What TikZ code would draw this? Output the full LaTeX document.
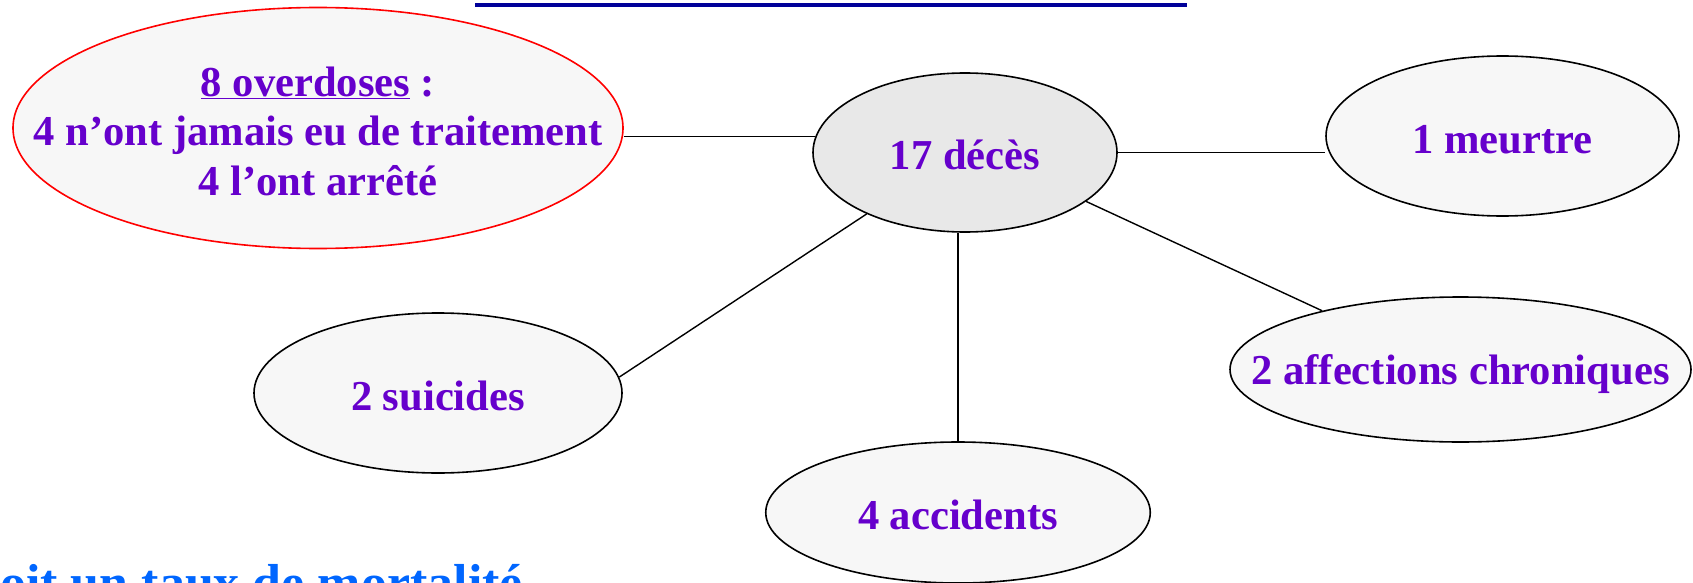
\documentclass[tikz,border=0pt]{standalone}
\usepackage{fontspec}
\setmainfont{Liberation Serif}
\usetikzlibrary{shapes.geometric}
\definecolor{txtpurple}{RGB}{102,0,204}
\definecolor{blobfill}{RGB}{247,247,247}
\definecolor{hubfill}{RGB}{232,232,232}
\definecolor{titleblue}{RGB}{0,0,153}
\definecolor{footblue}{RGB}{0,102,255}
\tikzset{
  blob/.style={ellipse, draw=black, line width=1.6pt, fill=blobfill, inner sep=0pt},
  lbl/.style={text=txtpurple, font=\fontsize{42.6}{49.5}\selectfont\bfseries, align=center, inner sep=0pt},
  link/.style={draw=black, line width=1.4pt}
}
\begin{document}
\begin{tikzpicture}[x=1pt,y=-1pt]
\useasboundingbox (0,0) rectangle (1693,583);
\clip (0,0) rectangle (1693,583);
% ellipses
\node[blob, draw=red, minimum width=610pt, minimum height=241pt] (od) at (318,128) {};
\node[blob, fill=hubfill, minimum width=304pt, minimum height=159pt] (c) at (965,152.5) {};
\node[blob, minimum width=353pt, minimum height=160pt] (m) at (1502.5,136) {};
\node[blob, minimum width=461pt, minimum height=145pt] (af) at (1460.5,369.5) {};
\node[blob, minimum width=368pt, minimum height=160pt] (s) at (438,393) {};
\node[blob, minimum width=384.5pt, minimum height=141pt] (a) at (958,512.5) {};
% texts
\node[lbl] (odt) at (318,131) {\underline{8 overdoses} :\\4 n’ont jamais eu de traitement\\4 l’ont arrêté};
\node[lbl] (ct) at (965,155) {17 décès};
\node[lbl] (mt) at (1502.5,140) {1 meurtre};
\node[lbl] (aft) at (1460.5,374) {2 affections chroniques};
\node[lbl] (st) at (438,396) {2 suicides};
\node[lbl] (at) at (958,515) {4 accidents};
% connectors
\draw[link] (c.174) -- (c.174 -| od.east);
\draw[link] (c.east) -- (c.east -| m.west);
\draw[link] (c.212) -- (s.5);
\draw[link] (a.north) -- (a.north |- c.south);
\draw[link] (c.-22) -- (af.157);
% cut-off top underline and bottom text
\coordinate (ul1) at (475,5);
\coordinate (ul2) at (1187,5);
\draw[titleblue, line width=3.5pt] (ul1) -- (ul2);
\node[anchor=base west, inner sep=0pt, text=footblue, font=\fontsize{52}{60}\selectfont\bfseries] (foot) at (-29,600) {Soit un taux de mortalité};
\end{tikzpicture}
\end{document}
